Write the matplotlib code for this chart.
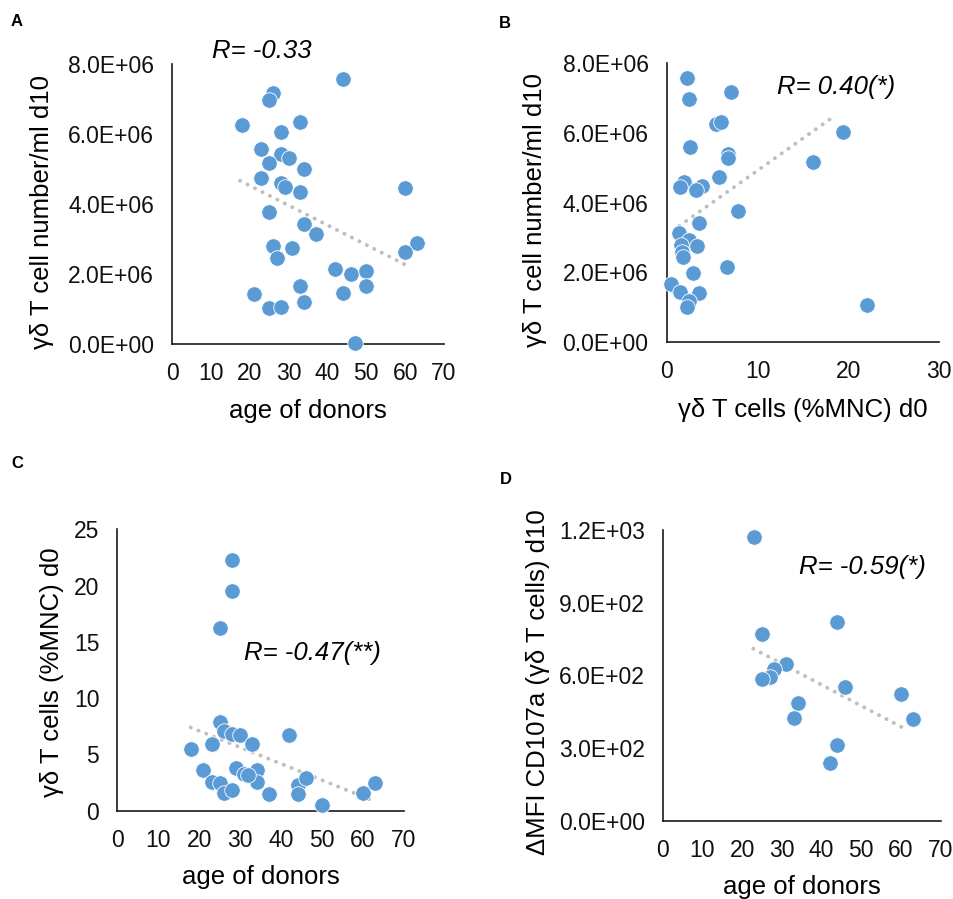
import numpy as np
import matplotlib
matplotlib.use("Agg")
import matplotlib.pyplot as plt
from matplotlib.ticker import FuncFormatter

plt.rcParams['font.family'] = ['Liberation Sans', 'DejaVu Sans']

# ---- Panel A: age vs gd T cell number/ml d10
a_age = [44, 26, 25, 18, 33, 28, 23, 28, 30, 25, 34, 23, 28, 29, 33, 60, 25, 34,
         37, 63, 60, 26, 31, 27, 42, 46, 50, 50, 33, 44, 21, 34, 25, 28, 47]
a_num = [7.57, 7.18, 6.96, 6.24, 6.33, 6.04, 5.58, 5.42, 5.30, 5.17, 5.00, 4.74,
         4.59, 4.49, 4.35, 4.44, 3.77, 3.43, 3.14, 2.89, 2.63, 2.80, 2.74, 2.45,
         2.14, 1.98, 2.08, 1.64, 1.64, 1.44, 1.42, 1.18, 1.01, 1.05, 0.01]
a_num = [v * 1e6 for v in a_num]
a_trend_x = [17.5, 61.4]
a_trend_y = [4.66e6, 2.18e6]

# ---- Panel B: gd T cells (%MNC) d0 vs gd T cell number/ml d10
b_pct = [2.27, 2.42, 7.04, 5.39, 5.94, 19.4, 2.57, 6.71, 6.71, 16.1, 5.79, 1.91,
         1.47, 3.85, 3.19, 7.88, 3.52, 1.39, 2.49, 3.30, 1.58, 1.69, 1.83, 6.64,
         2.86, 0.51, 1.43, 3.56, 2.49, 2.27, 22.1]
b_num = [7.57, 6.95, 7.17, 6.24, 6.31, 6.03, 5.58, 5.39, 5.28, 5.17, 4.73, 4.60,
         4.44, 4.48, 4.35, 3.77, 3.42, 3.14, 2.93, 2.76, 2.78, 2.59, 2.45, 2.16,
         1.97, 1.66, 1.43, 1.42, 1.18, 1.02, 1.08]
b_num = [v * 1e6 for v in b_num]
b_trend_x = [1.39, 18.6]
b_trend_y = [3.33e6, 6.50e6]

# ---- Panel C: age vs gd T cells (%MNC) d0
c_age = [28, 28, 25, 25, 26, 28, 30, 42, 33, 23, 18, 21, 29, 31, 34, 23, 25, 34,
         26, 28, 37, 44, 46, 44, 50, 60, 63, 32]
c_pct = [22.3, 19.5, 16.2, 7.9, 7.1, 6.8, 6.7, 6.7, 5.9, 5.9, 5.45, 3.6, 3.76,
         3.3, 3.6, 2.58, 2.43, 2.52, 1.54, 1.84, 1.45, 2.28, 2.87, 1.45, 0.5,
         1.6, 2.43, 3.2]
c_trend_x = [17.9, 63.1]
c_trend_y = [7.4, 0.8]

# ---- Panel D: age vs dMFI CD107a d10
d_age = [23, 25, 44, 31, 28, 27, 25, 46, 60, 34, 33, 63, 44, 42]
d_mfi = [1172, 771, 820, 648, 625, 594, 586, 553, 523, 487, 425, 418, 312, 239]
d_trend_x = [22.8, 61.8]
d_trend_y = [710, 372]

DOT = '#5B9BD5'
TREND = '#BFBFBF'
LBL = 18.5
TCK = 16.5

fig = plt.figure(figsize=(9.54, 8.99), dpi=100)


def make_ax(rect):
    ax = fig.add_axes(rect)
    for s in ['top', 'right']:
        ax.spines[s].set_visible(False)
    for s in ['left', 'bottom']:
        ax.spines[s].set_linewidth(1.2)
        ax.spines[s].set_color('#1a1a1a')
    ax.tick_params(length=0, labelsize=TCK, pad=13, colors='#111111')
    return ax


def scatter_trend(ax, x, y, tx, ty):
    ax.plot(tx, ty, color=TREND, lw=2.8, linestyle=(0, (0.05, 2.1)),
            dash_capstyle='round', zorder=2, clip_on=False)
    ax.scatter(x, y, s=125, color=DOT, edgecolors='white', linewidths=0.6,
               zorder=3, clip_on=False)


sci = FuncFormatter(lambda v, p: '{:.1E}'.format(v))

# A
axA = make_ax([0.1803, 0.6179, 0.2851, 0.3109])
scatter_trend(axA, a_age, a_num, a_trend_x, a_trend_y)
axA.set_xlim(0, 70)
axA.set_ylim(0, 8e6)
axA.set_xticks(range(0, 71, 10))
axA.set_yticks(np.arange(0, 8.01e6, 2e6))
axA.yaxis.set_major_formatter(sci)
axA.set_ylabel('γδ T cell number/ml d10', fontsize=LBL, va='center')
axA.yaxis.set_label_coords(-0.479, 0.472)
axA.set_xlabel('age of donors', fontsize=LBL, va='center')
axA.xaxis.set_label_coords(0.5, -0.24)
fig.text(212 / 954, 1 - 51 / 899, 'R= -0.33', fontsize=LBL, style='italic',
         va='center', ha='left')
fig.text(11 / 954, 1 - 22 / 899, 'A', fontsize=12, weight='bold', va='center')

# B
axB = make_ax([0.6988, 0.6192, 0.2857, 0.311])
scatter_trend(axB, b_pct, b_num, b_trend_x, b_trend_y)
axB.set_xlim(0, 30)
axB.set_ylim(0, 8e6)
axB.set_xticks(range(0, 31, 10))
axB.set_yticks(np.arange(0, 8.01e6, 2e6))
axB.yaxis.set_major_formatter(sci)
axB.set_ylabel('γδ T cell number/ml d10', fontsize=LBL, va='center')
axB.yaxis.set_label_coords(-0.483, 0.473)
axB.set_xlabel('γδ T cells (%MNC) d0', fontsize=LBL, va='center')
axB.xaxis.set_label_coords(0.498, -0.242)
fig.text(777 / 954, 1 - 87 / 899, 'R= 0.40(*)', fontsize=LBL, style='italic',
         va='center', ha='left')
fig.text(499 / 954, 1 - 24 / 899, 'B', fontsize=12, weight='bold', va='center')

# C
axC = make_ax([0.1230, 0.0982, 0.3005, 0.313])
scatter_trend(axC, c_age, c_pct, c_trend_x, c_trend_y)
axC.set_xlim(0, 70)
axC.set_ylim(0, 25)
axC.set_xticks(range(0, 71, 10))
axC.set_yticks(range(0, 26, 5))
axC.set_ylabel('γδ T cells (%MNC) d0', fontsize=LBL, va='center')
axC.yaxis.set_label_coords(-0.229, 0.493)
axC.set_xlabel('age of donors', fontsize=LBL, va='center')
axC.xaxis.set_label_coords(0.5, -0.235)
fig.text(244 / 954, 1 - 653 / 899, 'R= -0.47(**)', fontsize=LBL, style='italic',
         va='center', ha='left')
fig.text(11 / 954, 1 - 464 / 899, 'C', fontsize=12, weight='bold', va='center')

# D
axD = make_ax([0.6947, 0.0871, 0.2914, 0.3234])
scatter_trend(axD, d_age, d_mfi, d_trend_x, d_trend_y)
axD.set_xlim(0, 70)
axD.set_ylim(0, 1200)
axD.set_xticks(range(0, 71, 10))
axD.set_yticks(range(0, 1201, 300))
axD.yaxis.set_major_formatter(sci)
axD.set_ylabel('ΔMFI CD107a (γδ T cells) d10', fontsize=LBL, va='center')
axD.yaxis.set_label_coords(-0.449, 0.475)
axD.set_xlabel('age of donors', fontsize=LBL, va='center')
axD.xaxis.set_label_coords(0.5, -0.227)
fig.text(799 / 954, 1 - 567 / 899, 'R= -0.59(*)', fontsize=LBL, style='italic',
         va='center', ha='left')
fig.text(500 / 954, 1 - 479 / 899, 'D', fontsize=12, weight='bold', va='center')

fig.savefig('out.png', dpi=100, facecolor='white')
